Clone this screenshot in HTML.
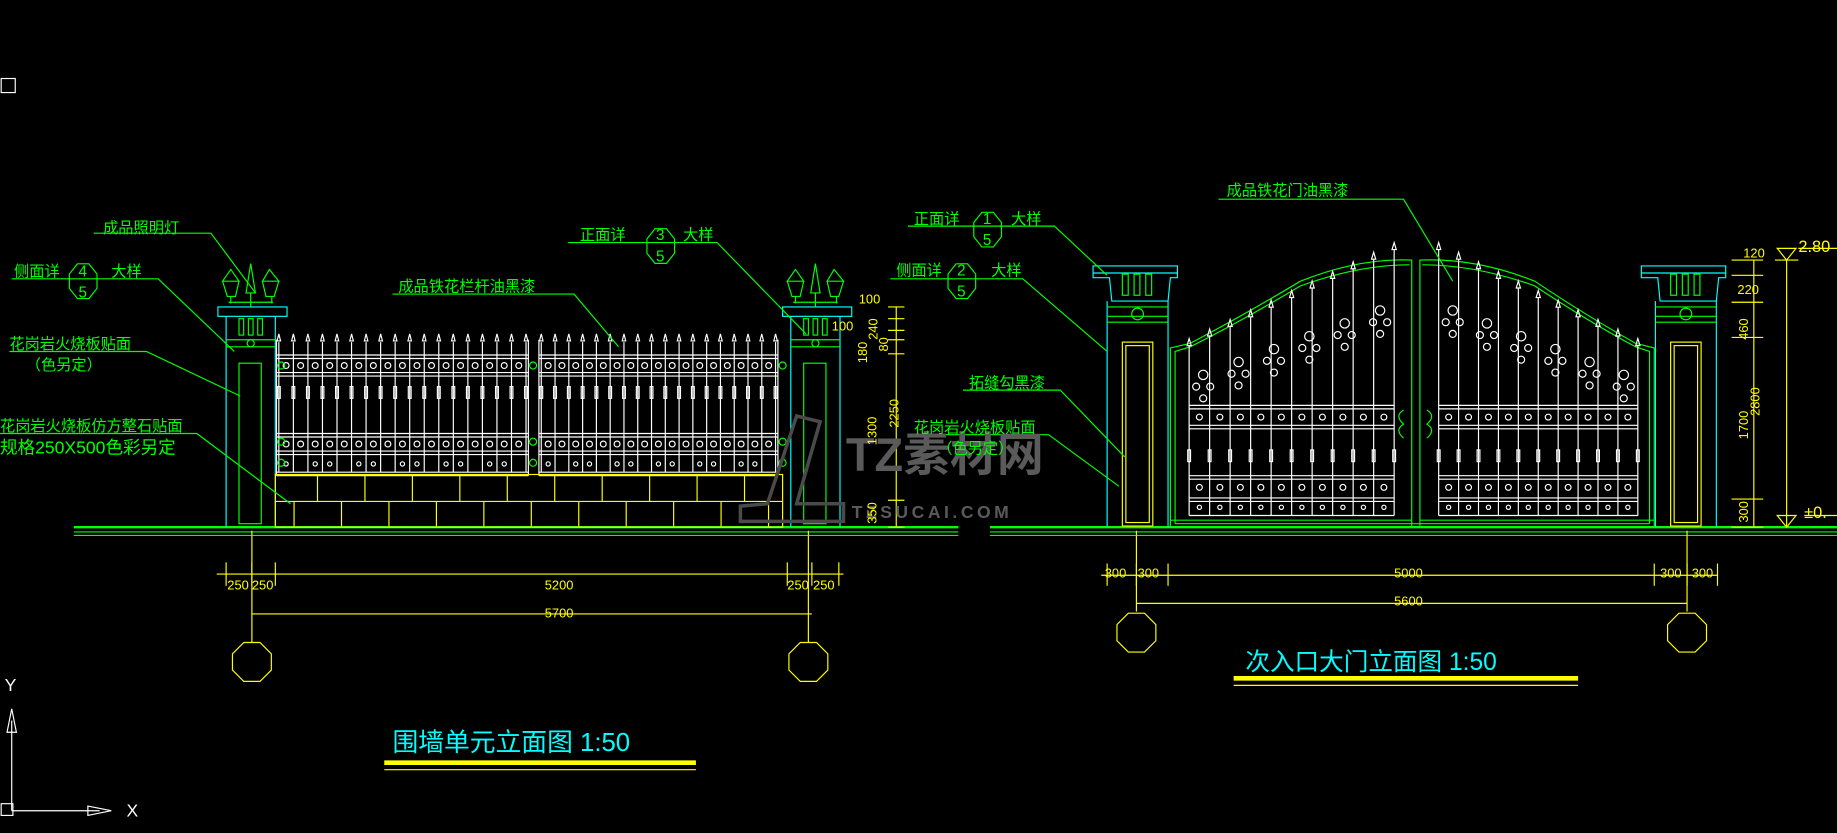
<!DOCTYPE html>
<html><head><meta charset="utf-8"><style>
html,body{margin:0;padding:0;background:#000;overflow:hidden}
svg{display:block}
text{font-family:"Liberation Sans","Noto Sans CJK SC",sans-serif}
</style></head><body>
<svg id="s" width="1837" height="833" viewBox="0 0 1568 711" xmlns="http://www.w3.org/2000/svg">
<rect width="1568" height="711" fill="#000"/>
<g id="g" fill="none" stroke-width="1"></g>
<g fill="#5a5a5a">
<text x="722" y="402" font-size="40" font-weight="bold">TZ素材网</text>
<text x="727" y="442" font-size="15" font-weight="bold" letter-spacing="3">TZSUCAI.COM</text>
</g>
<g fill="none" stroke="#4a4a4a" stroke-width="3"><path d="M632 445 L720 445 L720 430 L680 430 L700 360 L680 355 L655 430 L632 432Z"/></g>
<g fill="#00ff00" font-size="13">
<text x="88" y="199">成品照明灯</text>
<text x="12" y="236">侧面详</text><text x="67" y="236">4</text><text x="95" y="236">大样</text><text x="67" y="254">5</text>
<text x="8" y="298">花岗岩火烧板贴面</text>
<text x="22" y="316">（色另定）</text>
<text x="0" y="368">花岗岩火烧板仿方整石贴面</text>
<text x="0" y="387" font-size="15">规格250X500色彩另定</text>
<text x="495" y="205">正面详</text><text x="560" y="205">3</text><text x="583" y="205">大样</text><text x="560" y="223">5</text>
<text x="340" y="249">成品铁花栏杆油黑漆</text>
<text x="1047" y="167">成品铁花门油黑漆</text>
<text x="780" y="191">正面详</text><text x="839" y="191">1</text><text x="863" y="191">大样</text><text x="839" y="209">5</text>
<text x="765" y="235">侧面详</text><text x="817" y="235">2</text><text x="846" y="235">大样</text><text x="817" y="253">5</text>
<text x="827" y="331">拓缝勾黑漆</text>
<text x="780" y="369">花岗岩火烧板贴面</text>
<text x="800" y="387">（色另定）</text>
</g>
<g fill="#ffff00" font-size="11">
<text x="194" y="503">250</text><text x="215" y="503">250</text><text x="465" y="503">5200</text><text x="672" y="503">250</text><text x="694" y="503">250</text>
<text x="465" y="527">5700</text>
<text x="943" y="493">300</text><text x="971" y="493">300</text><text x="1190" y="493">5000</text><text x="1417" y="493">300</text><text x="1444" y="493">300</text>
<text x="1190" y="517">5600</text>
<text x="733" y="259">100</text><text x="710" y="282">100</text>
<text x="1488" y="220">120</text><text x="1483" y="251">220</text>
<text x="1535" y="215" font-size="14">2.80</text><text x="1540" y="442" font-size="14">±0.</text>
</g>
<g fill="#ffff00" font-size="11">
<text transform="translate(749,290) rotate(-90)">240</text>
<text transform="translate(758,300) rotate(-90)">80</text>
<text transform="translate(740,310) rotate(-90)">180</text>
<text transform="translate(748,380) rotate(-90)">1300</text>
<text transform="translate(767,365) rotate(-90)">2250</text>
<text transform="translate(748,447) rotate(-90)">350</text>
<text transform="translate(1492,290) rotate(-90)">460</text>
<text transform="translate(1492,375) rotate(-90)">1700</text>
<text transform="translate(1492,446) rotate(-90)">300</text>
<text transform="translate(1502,355) rotate(-90)">2800</text>
</g>
<g fill="#00ffff">
<text x="335" y="641" font-size="22">围墙单元立面图 1:50</text>
<text x="1063" y="572" font-size="21">次入口大门立面图 1:50</text>
</g>
<g fill="#fff" font-size="15"><text x="4" y="590">Y</text><text x="108" y="697">X</text></g>
</svg>
<script>
var g=document.getElementById('g'),o='';
function L(x1,y1,x2,y2,c,w){o+='<line x1="'+x1+'" y1="'+y1+'" x2="'+x2+'" y2="'+y2+'" stroke="'+c+'"'+(w?' stroke-width="'+w+'"':'')+'/>';}
function R(x,y,w,h,c){o+='<rect x="'+x+'" y="'+y+'" width="'+w+'" height="'+h+'" stroke="'+c+'"/>';}
function P(d,c,w){o+='<path d="'+d+'" stroke="'+c+'"'+(w?' stroke-width="'+w+'"':'')+'/>';}
function C(x,y,r,c){o+='<circle cx="'+x+'" cy="'+y+'" r="'+r+'" stroke="'+c+'"/>';}
function oct(x,y,r,c){var d='';for(var i=0;i<8;i++){var a=Math.PI/8+i*Math.PI/4;d+=(i?'L':'M')+(x+r*Math.cos(a)).toFixed(1)+' '+(y+r*Math.sin(a)).toFixed(1);}P(d+'Z',c);}
function hex(x,y,r,c){var d='';for(var i=0;i<8;i++){var a=i*Math.PI/4+Math.PI/8;d+=(i?'L':'M')+(x+r*0.8*Math.cos(a)).toFixed(1)+' '+(y+r*Math.sin(a)).toFixed(1);}P(d+'Z',c);}
var G='#00ff00',Y='#ffff00',Cy='#00ffff',W='#ffffff';
L(63,450,818,450,G,2);L(63,454,818,454,G);L(63,457,818,457,G);
L(845,450,1568,450,G,2);L(845,454,1568,454,G);L(845,457,1568,457,G);
function pillarL(x){R(x-7,262,59,8,Cy);L(x,270,x,450,Cy);L(x+42,270,x+42,450,Cy);
 for(var i=0;i<3;i++)R(x+11+i*8,272,4,14,G);
 L(x,290,x+42,290,G);L(x,296,x+42,296,G);C(x+21,293,3,G);
 R(x+11,310,19,137,G);
 P('M'+(x+21)+' 225 L'+(x+17)+' 250 L'+(x+25)+' 250Z',G);
 P('M'+(x+4)+' 230 L'+(x-3)+' 240 L'+(x+11)+' 240Z',G);P('M'+(x-3)+' 240 L'+(x+1)+' 253 L'+(x+8)+' 253 L'+(x+11)+' 240',G);
 P('M'+(x+37)+' 230 L'+(x+31)+' 240 L'+(x+45)+' 240Z',G);P('M'+(x+31)+' 240 L'+(x+34)+' 253 L'+(x+41)+' 253 L'+(x+45)+' 240',G);
 L(x+4,253,x+4,259,G);L(x+39,253,x+39,259,G);L(x+21,250,x+21,262,G);L(x+2,258,x+40,258,G);}
pillarL(193);pillarL(675);
function panel(a,b){L(a,303,b,303,W);L(a,306,b,306,W);L(a,318,b,318,W);L(a,321,b,321,W);
 L(a,370,b,370,W);L(a,373,b,373,W);L(a,385,b,385,W);L(a,388,b,388,W);L(a,403,b,403,W);L(a,406,b,406,W);
 L(a,290,a,406,W);L(b,290,b,406,W);
 var n=17,sp=(b-a)/n;
 for(var i=0;i<=n;i++){var x=a+2+i*(b-a-4)/n;L(x,292,x,403,W);P('M'+x.toFixed(1)+' 285 l-1.5 6 l3 0Z',W);R(x-1.2,330,2.4,10,W);}
 for(var i=0;i<n;i++){var x=a+2+(i+0.5)*(b-a-4)/n;C(x,312,2.5,W);C(x,379,2.5,W);if(i%3!=1)C(x,396,1.8,W);}}
panel(236,451);panel(460,664);
for(var y of [312,377,395]){C(240,y,3,G);C(455,y,3,G);C(668,y,3,G);}
R(235,405,433,45,Y);L(235,428,668,428,Y);
for(var x=271;x<668;x+=40.5)L(x,405,x,428,Y);
for(var x=251;x<668;x+=40.5)L(x,428,x,450,Y);
L(765,262,765,450,Y);for(var y of [262,272,282,290,302,427,450])L(758,y,772,y,Y);
L(185,490,720,490,Y);for(var x of [193,215,235,672,693,716])L(x,480,x,500,Y);
L(215,524,693,524,Y);
L(215,453,215,548,Y);L(690,453,690,548,Y);oct(215,565,18,Y);oct(690,565,18,Y);
function pillarR(x){P('M'+(x-12)+' 227 L'+(x+60)+' 227 L'+(x+60)+' 237 L'+(x+54)+' 237 L'+(x+52)+' 257 L'+(x+4)+' 257 L'+(x+2)+' 237 L'+(x-12)+' 237Z',Cy);
 L(x-12,233,x+60,233,Cy);for(var i=0;i<3;i++)R(x+13+i*10,234,5,18,G);
 L(x,257,x,450,Cy);L(x+52,257,x+52,450,Cy);
 L(x,262,x+52,262,G);L(x,270,x+52,270,G);L(x,275,x+52,275,G);C(x+26,268,5,G);
 R(x+13,292,26,157,Y);R(x+16,295,20,151,Y);}
pillarR(945);pillarR(1413);
P('M999 450 L999 297 L1016 293 Q1060 270 1110 240 Q1160 220 1205 222 L1205 450',G);
P('M1003 447 L1003 300 L1016 296 Q1060 274 1110 244 Q1160 226 1203 226',G);
P('M1412 450 L1412 297 L1396 293 Q1355 270 1310 240 Q1260 220 1212 222 L1212 450',G);
P('M1408 447 L1408 300 L1396 296 Q1355 274 1310 244 Q1260 226 1214 226',G);
L(1003,447,1408,447,G);L(999,444,1205,444,G);L(1212,444,1412,444,G);
function gate(a,b,dir){var n=11;for(var i=0;i<n;i++){var x=a+i*(b-a)/(n-1);var t=dir>0?i/(n-1):1-i/(n-1);var top=295-t*82;
 L(x,top,x,440,W);P('M'+x.toFixed(1)+' '+(top-6)+' l-1.8 6 l3.6 0Z',W);R(x-1.2,384,2.4,10,W);}
 for(var y of [346,349,363,366,406,409,425,428,440])L(a,y,b,y,W);
 for(var i=0;i<n-1;i++){var x=a+(i+0.5)*(b-a)/(n-1);C(x,356,2.5,W);C(x,416,2.5,W);C(x,433,1.8,W);}
 for(var k=0;k<6;k++){var cx=a+12+k*(b-a-24)/5;var t=dir>0?k/5:1-k/5;var cy=320-t*55;C(cx,cy,4,W);C(cx-6,cy+10,3,W);C(cx+6,cy+10,3,W);C(cx,cy+20,3,W);}}
gate(1015,1190,1);gate(1228,1398,-1);
P('M1198 350 q-8 5 0 12 q-8 5 0 12',G);P('M1218 350 q8 5 0 12 q8 5 0 12',G);
L(1525,222,1525,450,Y);L(1497,222,1497,450,Y);
for(var y of [222,235,258,288,426,450])L(1478,y,1505,y,Y);L(1515,222,1535,222,Y);
P('M1525 222 l-8 -10 l16 0Z',Y);L(1535,212,1568,212,Y);P('M1525 450 l-8 -10 l16 0Z',Y);L(1540,440,1568,440,Y);
L(940,491,1466,491,Y);for(var x of [945,970,997,1412,1440,1466])L(x,481,x,500,Y);
L(970,515,1440,515,Y);L(970,453,970,522,Y);L(1440,453,1440,522,Y);
oct(970,540,18,Y);oct(1440,540,18,Y);
P('M80 199 L180 199 L218 250',G);P('M10 238 L135 238 L200 300',G);P('M8 300 L125 300 L205 338',G);
P('M0 370 L168 370 L248 430',G);P('M485 207 L612 207 L688 285',G);P('M335 251 L490 251 L528 296',G);
P('M1040 170 L1198 170 L1240 240',G);P('M775 193 L900 193 L945 235',G);P('M760 238 L873 238 L945 300',G);
P('M822 333 L905 333 L960 390',G);P('M775 371 L895 371 L955 415',G);
hex(71,240,16,G);hex(564,210,16,G);hex(843,196,16,G);hex(821,240,16,G);
L(328,651,594,651,Y,4);L(328,657,594,657,Y);L(1053,579,1347,579,Y,4);L(1053,585,1347,585,Y);
R(1,67,12,12,W);L(10,615,10,692,W);L(10,692,85,692,W);P('M10 605 l-4 20 l8 0Z',W);P('M95 692 l-20 -4 l0 8Z',W);R(1,686,10,10,W);
g.innerHTML=o;
</script>
</body></html>
